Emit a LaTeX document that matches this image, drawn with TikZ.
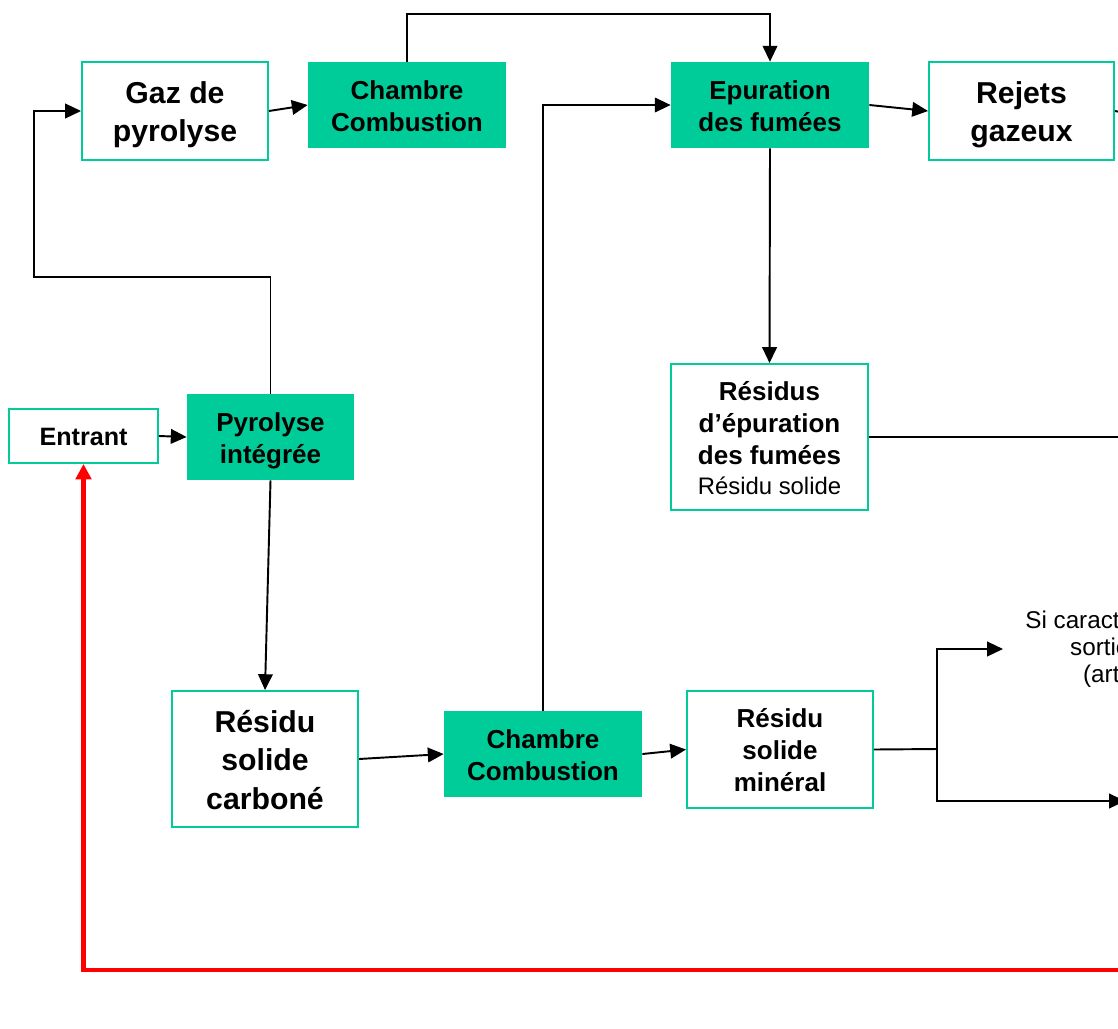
\documentclass[tikz,border=0pt]{standalone}
\usepackage{fontspec}
\setmainfont{Liberation Sans}
\usetikzlibrary{arrows.meta}
\definecolor{teal1}{RGB}{0,204,153}
\newcommand\strtop{\rule{0pt}{1em}}
\newcommand\strbot{\rule[-0.22em]{0pt}{0pt}}
\begin{document}
\begin{tikzpicture}[x=0.02cm,y=-0.02cm,
 sz/.style 2 args={minimum width=#1*0.02cm,minimum height=#2*0.02cm},
 outbox/.style={draw=teal1,line width=1.1pt,fill=white,inner sep=0pt,align=center},
 fillbox/.style={fill=teal1,inner sep=0pt,align=center},
 fL/.style={font=\fontsize{17.2}{21.8}\selectfont\bfseries},
 fM/.style={font=\fontsize{14.8}{18.1}\selectfont\bfseries},
 fE/.style={font=\fontsize{14.3}{17}\selectfont\bfseries},
 conn/.style={line width=1.1pt,-{Triangle[length=9pt,width=8.3pt]}},
 plain/.style={line width=1.1pt},
 redconn/.style={draw=red,line width=2.3pt,-{Triangle[length=8.8pt,width=8.8pt]}}
]
\useasboundingbox (0,0) rectangle (1118,1028);
\clip (0,0) rectangle (1118,1028);

% nodes
\node[outbox,sz={186}{98},fL] (gaz) at (175,111) {\strtop Gaz de\\pyrolyse\strbot};
\node[fillbox,sz={198}{86},fM] (cc1) at (407,105) {\strtop Chambre\\Combustion\strbot};
\node[fillbox,sz={198}{86},fM] (ep) at (770,105) {\strtop Epuration\\des fumées\strbot};
\node[outbox,sz={185}{98},fL] (rej) at (1021.5,111) {\strtop Rejets\\gazeux\strbot};
\node[outbox,sz={149}{54},fE] (ent) at (83.5,436) {\strtop Entrant\strbot};
\node[fillbox,sz={167}{86},fM] (pyro) at (270.5,437) {\strtop Pyrolyse\\intégrée\strbot};
\node[outbox,sz={197}{146},fM] (res) at (769.5,437)
  {\strtop Résidus\\d’épuration\\des fumées\\[-1pt]{\fontsize{13.6}{17}\selectfont\mdseries Résidu solide\strbot}};
\node[outbox,sz={186}{136},fL] (carb) at (265,759) {\strtop Résidu\\solide\\carboné\strbot};
\node[fillbox,sz={198}{86},fM] (cc2) at (543,754) {\strtop Chambre\\Combustion\strbot};
\node[outbox,sz={186}{117},fM] (min) at (780,749.5) {\strtop Résidu\\solide\\minéral\strbot};
\node[anchor=west,inner sep=0pt,align=left,font=\fontsize{13.8}{15.3}\selectfont] (si) at (1025,649)
  {Si caract\\\hspace*{25.5pt}sortie\\\hspace*{32.9pt}(arti};

% coordinates
\coordinate (topy) at (0,14);
\coordinate (k1) at (34,277);
\coordinate (br) at (937,749);
\coordinate (e1) at (1125,113);
\coordinate (e2) at (1125,437);
\coordinate (e3) at (1125,801);
\coordinate (e4) at (1125,970);
\coordinate (sa) at (1003,649);

% connectors
\draw[conn] (cc1.north) -- (cc1.north |- topy) -| (ep.north);
\draw[conn] (gaz.east) -- (cc1.west);
\draw[conn] (ep.east) -- (rej.west);
\draw[plain] (rej.east) -- (e1);
\draw[conn] (ep.south) -- (res.north);
\draw[plain] (res.east) -- (e2);
\draw[conn] (pyro.north) |- (k1) |- (gaz.west);
\draw[conn] (ent.east) -- (pyro.west);
\draw[conn] (pyro.south) -- (carb.north);
\draw[conn] (carb.east) -- (cc2.west);
\draw[conn] (cc2.north) |- (ep.west);
\draw[conn] (cc2.east) -- (min.west);
\draw[plain] (min.east) -- (br);
\draw[conn] (br) |- (sa);
\draw[conn] (br) |- (e3);
\draw[redconn] (e4) -| (ent.south);
\end{tikzpicture}
\end{document}
